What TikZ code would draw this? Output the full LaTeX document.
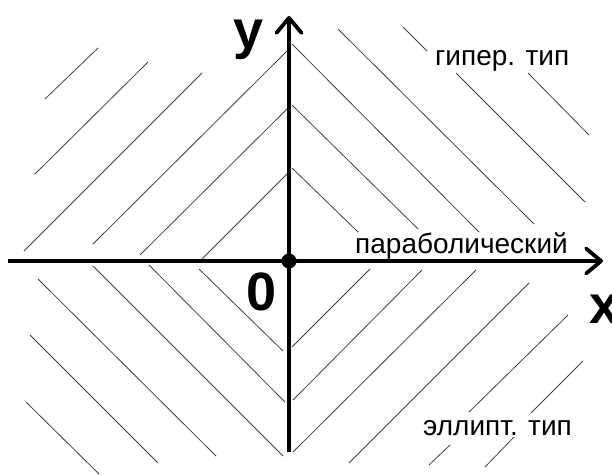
\documentclass[tikz,border=0pt]{standalone}
\usepackage{fontspec}
\setmainfont{Liberation Sans}
\usetikzlibrary{arrows.meta}
\begin{document}
\begin{tikzpicture}[x=1pt,y=-1pt,
  hatch/.style={black!75, line width=0.8pt},
  axis/.style={line width=3.8pt, -{Straight Barb[length=15pt,width=25pt,round]}},
  lbl/.style={font=\fontsize{28}{34}\selectfont, inner sep=0pt},
  big/.style={font=\fontsize{54}{60}\selectfont\bfseries, inner sep=0pt}]
\useasboundingbox (0,0) rectangle (612,474);
\clip (0,0) rectangle (612,474);
% hatching, quadrant II
\foreach \a/\b/\c/\d in {45/99/98/48, 35/174/148/62, 24/251/202/73, 93/244/287/51, 140/255/287/109, 201/260/287/174}
  \draw[hatch] (\a,\b) -- (\c,\d);
% quadrant I
\foreach \a/\b/\c/\d in {403/27/427/51, 338/29/534/224, 292/44/479/232, 292/105/418/229, 292/168/358/232, 456/73/585/202, 528/73/589/135}
  \draw[hatch] (\a,\b) -- (\c,\d);
% quadrant III
\foreach \a/\b/\c/\d in {199/269/283/351, 149/265/285/402, 93/266/283/456, 38/279/216/456, 30/335/158/463, 26/402/99/474}
  \draw[hatch] (\a,\b) -- (\c,\d);
% quadrant IV
\foreach \a/\b/\c/\d in {292/347/370/269, 293/400/422/270, 293/452/476/270, 349/463/529/283, 469/412/568/315, 531/413/583/361, 429/465/450/445, 485/467/514/437}
  \draw[hatch] (\a,\b) -- (\c,\d);
% axes
\coordinate (xs) at (8,261);
\coordinate (xe) at (603,261);
\coordinate (ys) at (289,452);
\coordinate (ye) at (289,16);
\draw[axis] (xs) -- (xe);
\draw[axis] (ys) -- (ye);
\node[circle, fill=black, minimum size=15pt, inner sep=0pt] (o) at (289,261) {};
% labels
\node[big, anchor=base] (ylab) at (249,48) {y};
\node[big, anchor=base] (zero) at (262,310) {0};
\node[big, anchor=base west] (xlab) at (589,323) {x};
\node[lbl, anchor=base west] (hyp) at (435,65) {гипер. тип};
\node[lbl, anchor=base west] (par) at (355,253) {параболический};
\node[lbl, anchor=base west] (ell) at (423,435) {эллипт. тип};
\end{tikzpicture}
\end{document}
